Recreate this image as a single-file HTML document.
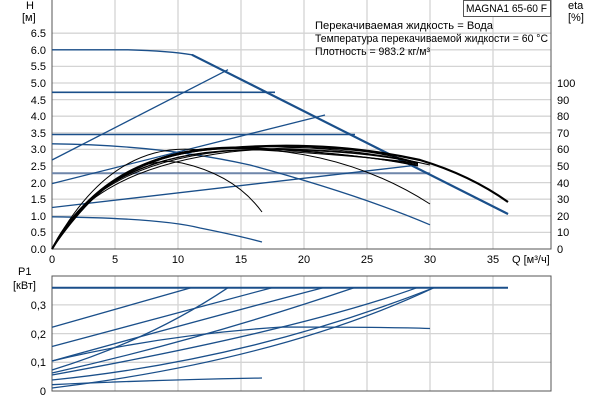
<!DOCTYPE html>
<html><head><meta charset="utf-8"><style>
body{margin:0;background:#fff}
svg{display:block}
text{font-family:"Liberation Sans","DejaVu Sans",sans-serif;font-size:11px;fill:#000}
</style></head><body>
<svg width="600" height="400" viewBox="0 0 600 400">
<g stroke="#d4d4d4" stroke-width="1.3">
<line x1="52" x2="551" y1="232.4" y2="232.4"/><line x1="52" x2="551" y1="215.8" y2="215.8"/>
<line x1="52" x2="551" y1="199.2" y2="199.2"/><line x1="52" x2="551" y1="182.6" y2="182.6"/>
<line x1="52" x2="551" y1="166" y2="166"/><line x1="52" x2="551" y1="149.4" y2="149.4"/>
<line x1="52" x2="551" y1="132.8" y2="132.8"/><line x1="52" x2="551" y1="116.2" y2="116.2"/>
<line x1="52" x2="551" y1="99.6" y2="99.6"/><line x1="52" x2="551" y1="83" y2="83"/>
<line x1="52" x2="551" y1="66.4" y2="66.4"/><line x1="52" x2="551" y1="49.8" y2="49.8"/>
<line x1="52" x2="551" y1="33.2" y2="33.2"/>
<line x1="115" x2="115" y1="0" y2="249"/><line x1="178" x2="178" y1="0" y2="249"/>
<line x1="241" x2="241" y1="0" y2="249"/><line x1="304" x2="304" y1="0" y2="249"/>
<line x1="367" x2="367" y1="0" y2="249"/><line x1="430" x2="430" y1="0" y2="249"/>
<line x1="493" x2="493" y1="0" y2="249"/>
<line x1="52" x2="551" y1="362.3" y2="362.3"/><line x1="52" x2="551" y1="333.6" y2="333.6"/>
<line x1="52" x2="551" y1="304.9" y2="304.9"/>
<line x1="115" x2="115" y1="276" y2="391"/><line x1="178" x2="178" y1="276" y2="391"/>
<line x1="241" x2="241" y1="276" y2="391"/><line x1="304" x2="304" y1="276" y2="391"/>
<line x1="367" x2="367" y1="276" y2="391"/><line x1="430" x2="430" y1="276" y2="391"/>
<line x1="493" x2="493" y1="276" y2="391"/>
</g>
<g stroke="#555" stroke-width="1" fill="none">
<path d="M52 0V249H551V0"/>
<rect x="52" y="276" width="499" height="115"/>
</g>
<g text-anchor="end">
<text x="46" y="253">0.0</text><text x="46" y="236">0.5</text><text x="46" y="220">1.0</text>
<text x="46" y="203">1.5</text><text x="46" y="187">2.0</text><text x="46" y="170">2.5</text>
<text x="46" y="153">3.0</text><text x="46" y="137">3.5</text><text x="46" y="120">4.0</text>
<text x="46" y="104">4.5</text><text x="46" y="87">5.0</text><text x="46" y="70">5.5</text>
<text x="46" y="54">6.0</text><text x="46" y="37">6.5</text>
<text x="46" y="395">0</text><text x="46" y="366">0,1</text><text x="46" y="338">0,2</text><text x="46" y="309">0,3</text>
</g>
<g>
<text x="557" y="253">0</text><text x="557" y="236">10</text><text x="557" y="220">20</text>
<text x="557" y="203">30</text><text x="557" y="187">40</text><text x="557" y="170">50</text>
<text x="557" y="153">60</text><text x="557" y="137">70</text><text x="557" y="120">80</text>
<text x="557" y="104">90</text><text x="557" y="87">100</text>
</g>
<g text-anchor="middle">
<text x="52" y="263">0</text><text x="115" y="263">5</text><text x="178" y="263">10</text>
<text x="241" y="263">15</text><text x="304" y="263">20</text><text x="367" y="263">25</text>
<text x="430" y="263">30</text><text x="493" y="263">35</text>
</g>
<text x="512" y="263">Q [м³/ч]</text>
<text x="26" y="9">H</text><text x="22" y="21">[м]</text>
<text x="568" y="9">eta</text><text x="568" y="21">[%]</text>
<text x="18" y="275">P1</text><text x="13" y="289">[кВт]</text>
<rect x="463.5" y="0.5" width="87" height="16" fill="#fff" stroke="#555"/>
<text x="466" y="12" textLength="81" lengthAdjust="spacingAndGlyphs">MAGNA1 65-60 F</text>
<text x="315" y="29" textLength="178" lengthAdjust="spacingAndGlyphs">Перекачиваемая жидкость = Вода</text>
<text x="315" y="42" textLength="233" lengthAdjust="spacingAndGlyphs">Температура перекачиваемой жидкости = 60 °C</text>
<text x="315" y="55" textLength="115" lengthAdjust="spacingAndGlyphs">Плотность = 983.2 кг/м³</text>
<g stroke="#1a4f8a" stroke-width="1.3" fill="none">
<path d="M52 49.8L128 49.8Q170 51 192 54.8L508 214"/>
<path d="M52 92.3H275" stroke-width="1.6"/>
<path d="M52 134.5H355" stroke-width="1.6"/>
<path d="M52 173.3H430" stroke="#6f86aa" stroke-width="2"/>
<path d="M52 160L228 69.7"/>
<path d="M52 183.6L325 115"/>
<path d="M52 207.5L418 165"/>
<path d="M52 143.8Q160 145 250 165Q360 195 430 224.8"/>
<path d="M52 216.8Q160 218 200 228Q240 236 262 242"/>
<path d="M192 54.8L508 214" stroke-width="2.2"/>
</g>
<g stroke="#000" stroke-width="1" fill="none">
<path d="M52 249Q120 150 182 163Q235 175 262 212"/>
<path d="M52 249Q110 140 200 150Q330 140 430 204"/>
<path d="M52 249Q115 150 220 148Q330 142 430 165"/>
<path d="M52 249Q112 148 230 148Q340 150 418 166"/>
<path d="M52 249Q108 146 240 147Q340 152 418 165"/>
<path d="M52 249Q106 146 250 148Q345 153 418 164"/>
<path d="M52 249Q104 148 260 150Q350 155 418 163"/>
<path d="M52 249Q100 154 240 150Q350 148 418 163"/>
<path d="M52 249Q95 160 240 150Q345 146 418 163"/>
<path d="M52 249Q88 170 230 152Q345 140 418 163"/>
<path d="M52 249Q110 150 230 148Q330 140 420 160Q470 175 508 202" stroke-width="2.2"/>
</g>
<g stroke="#1a4f8a" stroke-width="1.3" fill="none">
<path d="M52 287.7H508" stroke-width="2"/>
<path d="M52 327.3L191 287.7"/>
<path d="M52 346.5L272 287.7"/>
<path d="M52 370Q150 340 228 287.7"/>
<path d="M52 361Q200 320 323 287.7"/>
<path d="M52 373Q200 340 354 287.7"/>
<path d="M52 375Q300 330 417 287.7"/>
<path d="M52 380Q250 360 434 287.7"/>
<path d="M52 388Q280 360 434 287.7"/>
<path d="M52 361Q160 335 282 327Q380 327 430 328.5"/>
<path d="M52 384.7Q150 380 262 378"/>
</g>
</svg>
</body></html>
